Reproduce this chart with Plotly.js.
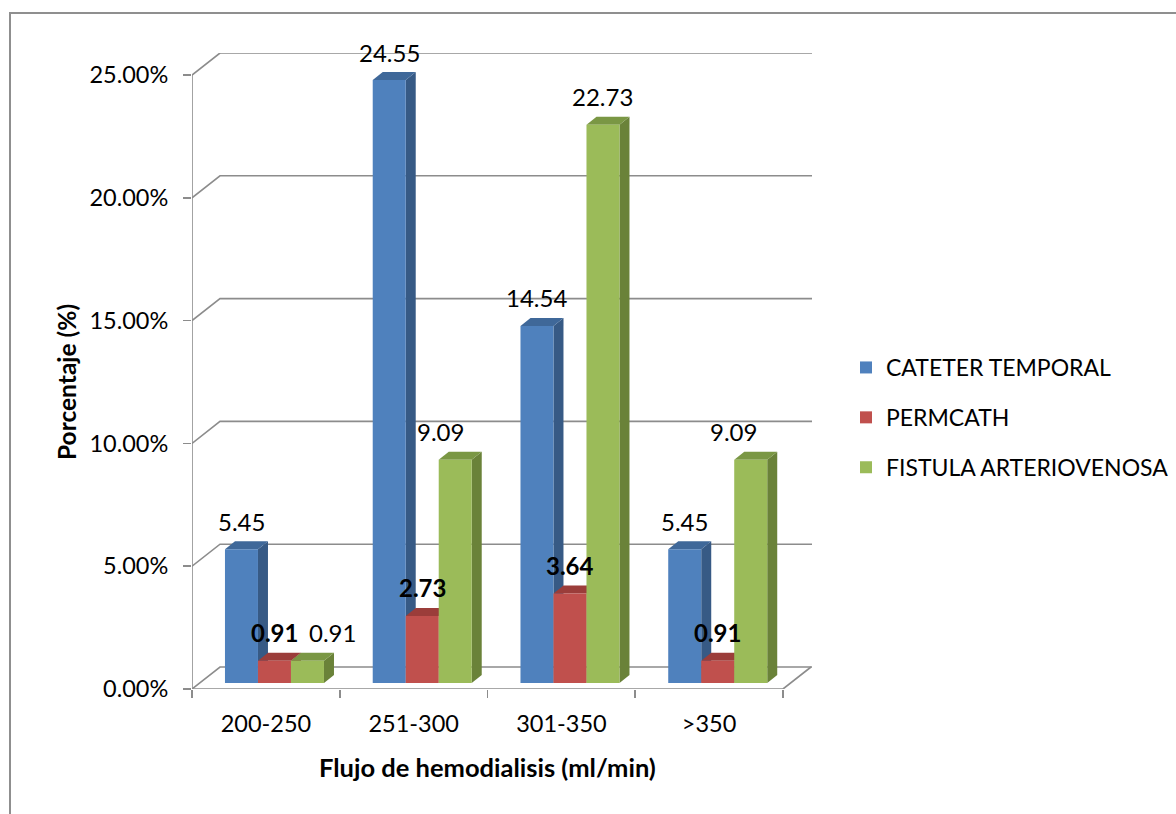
<!DOCTYPE html>
<html>
<head>
<meta charset="utf-8">
<script src="https://cdn.plot.ly/plotly-3.0.1.min.js"></script>
<style>
  html, body { margin: 0; padding: 0; background: #ffffff; }
  #wrap { position: relative; width: 1176px; height: 814px; overflow: hidden; }
  #chart { position: absolute; left: 0; top: 0; width: 1260px; height: 814px; }
  #frame { position: absolute; left: 9px; top: 12px; width: 1300px; height: 900px;
           border: 2px solid #8f8f8f; pointer-events: none; }
</style>
</head>
<body>
<div id="wrap">
  <div id="chart"></div>
  <div id="frame"></div>
</div>
<script>
// ---- data ----
const categories = ['200-250', '251-300', '301-350', '>350'];
const seriesNames = ['CATETER TEMPORAL', 'PERMCATH', 'FISTULA ARTERIOVENOSA'];
const cateterTemporal = [5.45, 24.55, 14.54, 5.45];
const permcath = [0.91, 2.73, 3.64, 0.91];
const fistulaArteriovenosa = [0.91, 9.09, 22.73, 9.09];
const yTickVals = [0, 5, 10, 15, 20, 25];
const yTickText = ['0.00%', '5.00%', '10.00%', '15.00%', '20.00%', '25.00%'];
const xTitle = 'Flujo de hemodialisis (ml/min)';
const yTitle = 'Porcentaje (%)';

// ---- styling ----
const seriesValues = [cateterTemporal, permcath, fistulaArteriovenosa];
const frontColors = ['#4f81bd', '#c0504d', '#9bbb59'];
const sideColors  = ['#375a85', '#8c3a37', '#6a8239'];
const topColors   = ['#3f6899', '#9b3d3a', '#7a9744'];
const labelBold   = [false, true, false];
const labelNudge  = [[0, 0, 0, 0], [0, 0, 0, 0], [25, -15, 0, -17]];  // px, keeps labels clear of neighbours
const FONT = 'Lato, "Open Sans", sans-serif';
const GRID = '#8c8c8c';

// the figure is drawn a little wider than the visible page so the legend never squeezes the plot
const FIG_W = 1260, FIG_H = 814;

// plot box in page pixels and the oblique projection used for the 3-D look
const box = { left: 192, right: 812, top: 53, bottom: 689 };
const floorFrontRightPx = 783;
const yMaxTick = yTickVals[yTickVals.length - 1];
const yMaxTickPx = 75;
const xUnitPx = (floorFrontRightPx - box.left) / categories.length;
const yUnitPx = (box.bottom - yMaxTickPx) / yMaxTick;
const xMin = -0.5;
const xMax = xMin + (box.right - box.left) / xUnitPx;
const yMaxRange = (box.bottom - box.top) / yUnitPx;
const wall  = { dx: 28 / xUnitPx, dy: 22 / yUnitPx };   // back wall depth
const depth = { dx: 10 / xUnitPx, dy: 8 / yUnitPx };    // bar depth
const inset = { dx: 8.6 / xUnitPx, dy: 6 / yUnitPx };   // bars sit slightly behind the front edge
const barW = 33 / xUnitPx;
const nSeries = seriesNames.length;

const xPos = categories.map((c, i) => i);
const barLeft = (i, j) => i + inset.dx - (nSeries / 2) * barW + j * barW;

// ---- bar front faces ----
const traces = seriesNames.map((name, j) => ({
  type: 'bar',
  name: name,
  x: xPos,
  y: seriesValues[j],
  base: inset.dy,
  offset: inset.dx - (nSeries / 2) * barW + j * barW,
  width: barW,
  marker: { color: frontColors[j], line: { width: 0 } },
  legendgroup: 'g' + j,
  hoverinfo: 'skip'
}));

// ---- walls, floor, axis lines ----
const shapes = [];
const pathOf = pts => 'M' + pts.map(p => p[0] + ',' + p[1]).join('L');
yTickVals.forEach(v => {
  shapes.push({
    type: 'path', xref: 'x', yref: 'y', layer: 'below',
    path: pathOf([[xMin, v], [xMin + wall.dx, v + wall.dy], [xMax, v + wall.dy]]),
    line: { color: GRID, width: 1.6 }
  });
});
shapes.push({ type: 'line', xref: 'x', yref: 'y', layer: 'below',
  x0: xMin, y0: 0, x1: xMin, y1: yMaxTick, line: { color: GRID, width: 1.6 } });
shapes.push({ type: 'path', xref: 'x', yref: 'y', layer: 'below',
  path: pathOf([[xMin, 0], [xMin + categories.length, 0], [xMin + categories.length + wall.dx, wall.dy]]),
  line: { color: GRID, width: 1.6 } });

// ---- bar side and top faces ----
categories.forEach((c, i) => {
  seriesValues.forEach((vals, j) => {
    const x0 = barLeft(i, j), x1 = x0 + barW;
    const y0 = inset.dy, y1 = inset.dy + vals[i];
    shapes.push({ type: 'path', xref: 'x', yref: 'y', layer: 'below',
      path: pathOf([[x1, y0], [x1 + depth.dx, y0 + depth.dy], [x1 + depth.dx, y1 + depth.dy], [x1, y1]]) + 'Z',
      fillcolor: sideColors[j], line: { width: 0 } });
    shapes.push({ type: 'path', xref: 'x', yref: 'y', layer: 'below',
      path: pathOf([[x0, y1], [x0 + depth.dx, y1 + depth.dy], [x1 + depth.dx, y1 + depth.dy], [x1, y1]]) + 'Z',
      fillcolor: topColors[j], line: { width: 0 } });
  });
});

// ---- value labels and axis titles ----
const annotations = [];
seriesValues.forEach((vals, j) => {
  vals.forEach((v, i) => {
    annotations.push({
      xref: 'x', yref: 'y', x: barLeft(i, j) + barW / 2, y: inset.dy + v,
      xanchor: 'center', yanchor: 'middle',
      text: v.toFixed(2), showarrow: false, yshift: 28, xshift: labelNudge[j][i],
      font: { family: FONT, size: 24, color: '#000000', weight: labelBold[j] ? 700 : 400 }
    });
  });
});
const pxToPaperX = px => (px - box.left) / (box.right - box.left);
const pxToPaperY = py => (box.bottom - py) / (box.bottom - box.top);
annotations.push({
  xref: 'x', yref: 'paper', x: xMin + categories.length / 2, y: pxToPaperY(767),
  xanchor: 'center', yanchor: 'middle',
  text: xTitle, showarrow: false,
  font: { family: FONT, size: 25.5, color: '#000000', weight: 700 }
});
annotations.push({
  xref: 'paper', yref: 'paper', x: pxToPaperX(66), y: pxToPaperY(382),
  xanchor: 'center', yanchor: 'middle',
  text: yTitle, showarrow: false, textangle: -90,
  font: { family: FONT, size: 24.5, color: '#000000', weight: 700 }
});

const layout = {
  width: FIG_W, height: FIG_H,
  margin: { l: box.left, r: FIG_W - box.right, t: box.top, b: FIG_H - box.bottom, pad: 0 },
  paper_bgcolor: '#ffffff', plot_bgcolor: 'rgba(0,0,0,0)',
  barmode: 'overlay',
  showlegend: true,
  font: { family: FONT, color: '#000000' },
  xaxis: {
    type: 'linear', range: [xMin, xMax], fixedrange: true,
    tickmode: 'array', tickvals: xPos, ticktext: categories,
    ticks: '', showgrid: false, zeroline: false, showline: false,
    ticklabelstandoff: 18,
    tickfont: { family: FONT, size: 23.5, color: '#000000' },
    minor: {
      tickmode: 'array', tickvals: [-0.5, 0.5, 1.5, 2.5, 3.5],
      ticks: 'outside', ticklen: 8, tickwidth: 1.6, tickcolor: GRID, showgrid: false
    }
  },
  yaxis: {
    range: [0, yMaxRange], fixedrange: true,
    tickmode: 'array', tickvals: yTickVals, ticktext: yTickText,
    ticks: 'outside', ticklen: 8, tickwidth: 1.6, tickcolor: GRID,
    showgrid: false, zeroline: false, showline: false,
    ticklabelstandoff: 10,
    tickfont: { family: FONT, size: 23.5, color: '#000000' }
  },
  legend: {
    x: pxToPaperX(846), xanchor: 'left', y: pxToPaperY(346), yanchor: 'top',
    font: { family: FONT, size: 23, color: '#000000' },
    tracegroupgap: 17, traceorder: 'grouped', bgcolor: 'rgba(0,0,0,0)', borderwidth: 0
  },
  shapes: shapes,
  annotations: annotations
};

Plotly.newPlot('chart', traces, layout, { displayModeBar: false, staticPlot: true });
</script>
</body>
</html>
